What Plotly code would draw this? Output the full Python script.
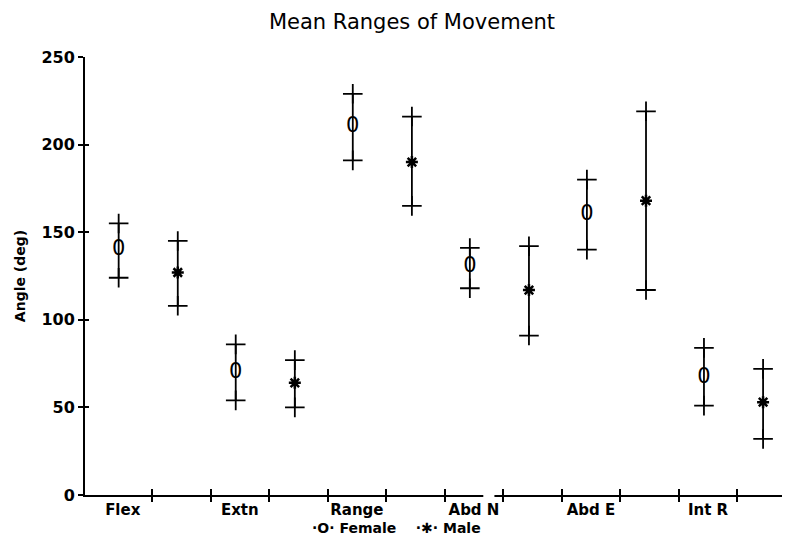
import numpy as np
import plotly.graph_objects as go

categories = ["Flex", "Extn", "Range", "Abd N", "Abd E", "Int R"]
female_mean = [140, 70, 210, 130, 160, 67]
female_low = [124, 54, 191, 118, 140, 51]
female_high = [155, 86, 229, 141, 180, 84]
male_mean = [127, 64, 190, 117, 168, 53]
male_low = [108, 50, 165, 91, 117, 32]
male_high = [145, 77, 216, 142, 219, 72]
y_ticks = [0, 50, 100, 150, 200, 250]

FONT = "DejaVu Sans"
n = len(categories)
grp = np.arange(n) * 2
x_f = grp + 0.43
x_m = grp + 1.44
x_lab = grp + 0.5
x_ticks = list(range(1, 2 * n))

fm = np.array(female_mean); fl = np.array(female_low); fh = np.array(female_high)
mm = np.array(male_mean); ml = np.array(male_low); mh = np.array(male_high)

fig = go.Figure()
lw = 1.8
for xs, m, lo, hi in [(x_f, fm, fl, fh), (x_m, mm, ml, mh)]:
    fig.add_trace(go.Scatter(
        x=xs, y=m, mode="markers", marker=dict(size=1, color="rgba(0,0,0,0)"),
        error_y=dict(type="data", symmetric=False, array=hi - m, arrayminus=m - lo,
                     width=0, thickness=lw, color="black"),
        showlegend=False, hoverinfo="skip"))
    fig.add_trace(go.Scatter(
        x=np.concatenate([xs, xs]), y=np.concatenate([lo, hi]), mode="markers",
        marker=dict(symbol="cross-thin-open", size=14, color="black",
                    line=dict(width=lw, color="black")),
        showlegend=False, hoverinfo="skip", cliponaxis=False))

fig.add_trace(go.Scatter(
    x=x_f, y=fm, mode="text", text=["0"] * n, textposition="middle center",
    textfont=dict(family=FONT, size=21, color="black"), name="Female",
    showlegend=False))
fig.add_trace(go.Scatter(
    x=x_m, y=mm, mode="markers", name="Male", showlegend=False,
    marker=dict(symbol="asterisk-open", size=10, color="black",
                line=dict(width=2.5, color="black"))))

fig.add_trace(go.Scatter(x=[None], y=[None], xaxis="x2", yaxis="y", showlegend=False))
fig.add_trace(go.Scatter(x=[None], y=[None], xaxis="x3", yaxis="y", showlegend=False))
fig.add_trace(go.Scatter(x=[None], y=[None], xaxis="x", yaxis="y2", showlegend=False))

# the page has an 8px body margin; compensate in margins
OFF = 8
xr = [-0.145, 11.9]
yr = [0, 250]
tickf = dict(family=FONT, size=16, color="black", weight="bold")
H = 538
fig.update_layout(
    width=790, height=H,
    margin=dict(l=85 - OFF, r=OFF, t=57 - OFF, b=43 + OFF),
    paper_bgcolor="white", plot_bgcolor="white",
    showlegend=False,
    title=dict(text="Mean Ranges of Movement", x=(412 - OFF) / 790, xanchor="center",
               y=1 - (22 - OFF) / H, yanchor="middle",
               font=dict(family=FONT, size=21, color="black")),
    xaxis=dict(range=xr, showline=True, linecolor="black", linewidth=2,
               tickvals=list(x_lab), ticktext=categories, ticks="",
               tickfont=dict(family=FONT, size=15, color="black", weight="bold"),
               showgrid=False, zeroline=False),
    xaxis2=dict(range=xr, overlaying="x", anchor="y", tickvals=x_ticks, ticks="outside",
                ticklen=6, tickwidth=1.6, tickcolor="black", showticklabels=False,
                showline=False, showgrid=False, zeroline=False),
    xaxis3=dict(range=xr, overlaying="x", anchor="y", tickvals=x_ticks, ticks="inside",
                ticklen=6, tickwidth=1.6, tickcolor="black", showticklabels=False,
                showline=False, showgrid=False, zeroline=False),
    yaxis=dict(range=yr, showline=True, linecolor="black", linewidth=2,
               tickvals=y_ticks, ticks="outside", ticklen=5, tickwidth=1.6, tickcolor="black",
               tickfont=tickf, showgrid=False, zeroline=False,
               title=dict(text="Angle (deg)", standoff=12,
                          font=dict(family=FONT, size=14, color="black", weight="bold"))),
    yaxis2=dict(range=yr, overlaying="y", anchor="x", side="left", tickvals=y_ticks[1:],
                ticks="inside", ticklen=4, tickwidth=1.6, tickcolor="black",
                showticklabels=False, showline=False, showgrid=False, zeroline=False),
)
fig.add_shape(type="rect", xref="x", yref="paper", x0=6.66, x1=6.85, y0=-0.008, y1=0.008,
              fillcolor="white", line=dict(width=0), layer="above")
fig.add_annotation(text="·O· Female    ·✱· Male", xref="paper", yref="paper",
                   x=(396 - 85) / 705, y=-(528 - 495) / 438, xanchor="center", yanchor="middle",
                   showarrow=False, font=dict(family=FONT, size=14, color="black", weight="bold"))
fig.write_html("out.html")
